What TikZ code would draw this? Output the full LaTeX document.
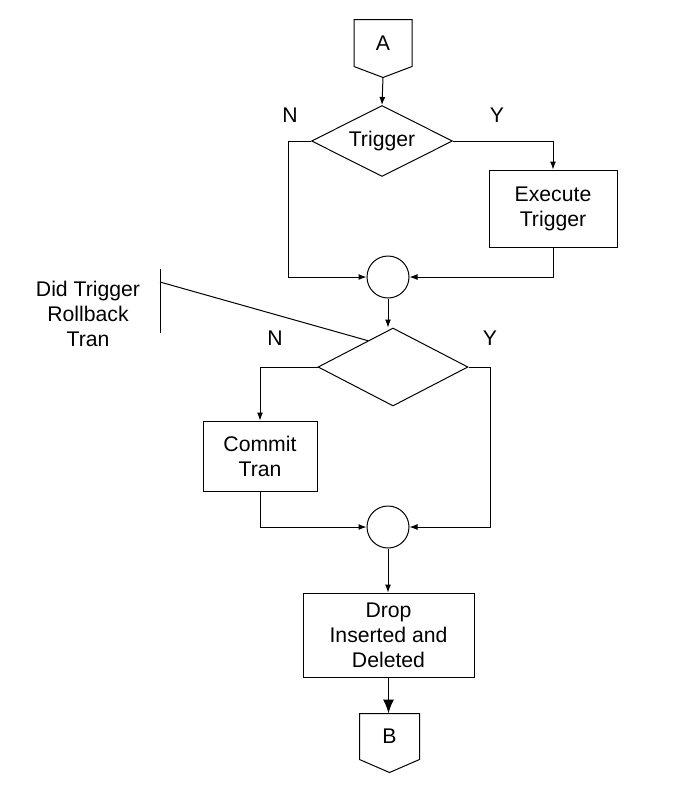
\documentclass[tikz,border=0pt]{standalone}
\usepackage{fontspec}
\setmainfont{Liberation Sans}
\usetikzlibrary{shapes.geometric,calc,arrows.meta,positioning}

\begin{document}
\begin{tikzpicture}[x=0.5pt,y=-0.5pt,line width=0.5pt,
    every node/.style={font=\fontsize{10.6}{12.5}\selectfont, align=center},
    procbox/.style={draw, rectangle, inner sep=0pt},
    decide/.style={draw, diamond, aspect=2, inner sep=0pt},
    joint/.style={draw, circle, minimum size=21pt, inner sep=0pt},
    offpage/.style={rectangle, inner sep=0pt, minimum width=#1, minimum height=23pt},
    flow/.style={-{Latex[length=4pt,width=3pt]}},
    bigflow/.style={-{Latex[length=7pt,width=5.5pt]}, line width=0.75pt}]
  \useasboundingbox (0,0) rectangle (676,794);
  % off page connectors
  \node[offpage=28.5pt] (A) at (383,43) {A};
  \draw (A.north west) -- (A.north east) -- (A.south east) -- ([yshift=-5.5pt]A.south) -- (A.south west) -- cycle;
  \node[offpage=29.5pt, minimum height=22.5pt] (B) at (389.5,736.5) {B};
  \draw (B.north west) -- (B.north east) -- (B.south east) -- ([yshift=-6.5pt]B.south) -- (B.south west) -- cycle;
  % steps
  \node[decide, minimum width=70.5pt, minimum height=35.5pt] (trig) at (382,141) {Trigger};
  \node[procbox, minimum width=64pt, minimum height=38.5pt] (exec) at (553,208.5) {Execute\\Trigger};
  \node[joint] (join1) at (388,277) {};
  \node[decide, minimum width=75pt, minimum height=39pt] (roll) at (393,367) {};
  \node[procbox, minimum width=57pt, minimum height=35pt] (commit) at (260,456) {Commit\\Tran};
  \node[joint] (join2) at (388,527) {};
  \node[procbox, minimum width=85.5pt, minimum height=42pt] (drop) at (388.5,635) {Drop\\Inserted and\\Deleted};
  % labels
  \node (n1) at (290,115) {N};
  \node (y1) at (497,115) {Y};
  \node (n2) at (275,338) {N};
  \node (y2) at (490,338) {Y};
  \node (note) at (88,314) {Did Trigger\\Rollback\\Tran};
  \coordinate (brtop) at (160,269);
  \coordinate (brbot) at (160,333);
  \coordinate (brk) at (160,282);
  \draw (brtop) -- (brbot);
  \draw (brk) -- ($(roll.west)!0.667!(roll.north)$);
  % connectors
  \draw[flow] (A.south) ++(0,11) -- (trig.north);
  \draw[flow] (trig.west) -- ++(-23,0) |- (join1.west);
  \draw[flow] (trig.east) -| (exec.north);
  \draw[flow] (exec.south) |- (join1.east);
  \draw[flow] (join1.south) -- (join1.south |- roll.north);
  \draw[flow] (roll.west) -| (commit.north);
  \draw[flow] (roll.east) -- ++(22,0) |- (join2.east);
  \draw[flow] (commit.south) |- (join2.west);
  \draw[flow] (join2.south) -- (join2.south |- drop.north);
  \draw[bigflow] (drop.south) -- (drop.south |- B.north);
\end{tikzpicture}
\end{document}
